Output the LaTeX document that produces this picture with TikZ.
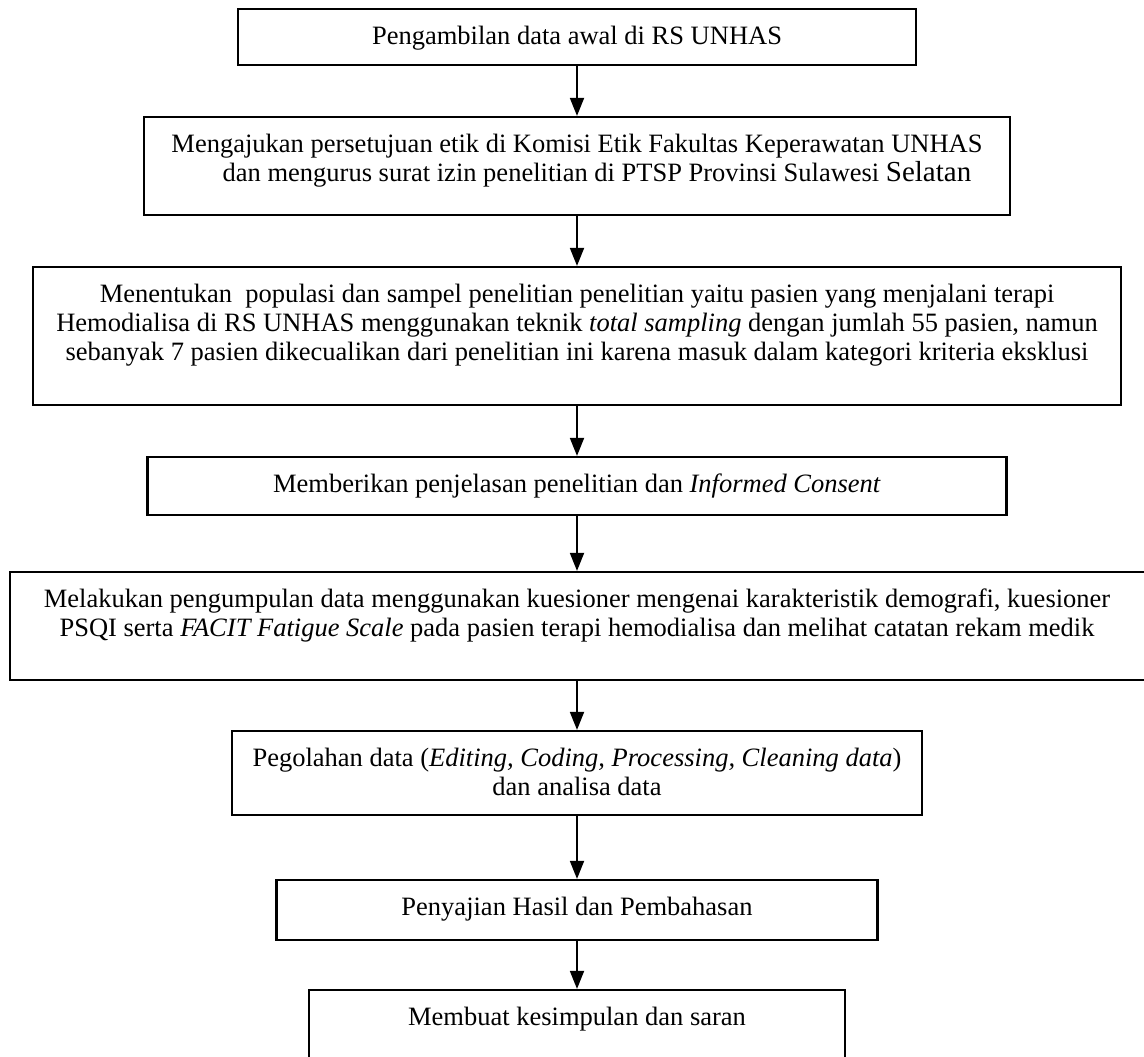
\documentclass[tikz,border=0pt]{standalone}
\usepackage{fontspec}
\setmainfont{Liberation Serif}
\usetikzlibrary{arrows.meta}
\tikzset{
  box/.style={draw, line width=2.2bp, rectangle, inner sep=0pt},
  txt/.style={anchor=north, yshift=-18bp, inner sep=0pt, align=center,
    font=\fontsize{26.5bp}{29bp}\selectfont},
  arr/.style={line width=1.8bp, -{Triangle[length=18bp,width=14bp]}}
}
\begin{document}
\begin{tikzpicture}[x=1bp,y=-1bp]
\useasboundingbox (0,0) rectangle (1144,1057);
\clip (0,0) rectangle (1144,1057);
\fill[white] (0,0) rectangle (1144,1057);
\node[box, minimum width=678bp, minimum height=56bp] (b1) at (577,37) {};
\node[box, minimum width=866bp, minimum height=98bp] (b2) at (577,166) {};
\node[box, minimum width=1088bp, minimum height=138bp] (b3) at (577,336) {};
\node[box, minimum width=859bp, minimum height=58bp] (b4) at (577,486) {};
\node[box, minimum width=1136bp, minimum height=108bp] (b5) at (578,626) {};
\node[box, minimum width=690bp, minimum height=84bp] (b6) at (577,773) {};
\node[box, minimum width=601bp, minimum height=60bp] (b7) at (577,910) {};
\node[box, minimum width=536bp, minimum height=80bp] (b8) at (577,1030) {};

\node[txt] (t1) at (b1.north) {Pengambilan data awal di RS UNHAS};
\node[txt] (t2) at (b2.north) {Mengajukan persetujuan etik di Komisi Etik Fakultas Keperawatan UNHAS\\
  \hspace*{40bp}dan mengurus surat izin penelitian di PTSP Provinsi Sulawesi {\fontsize{29bp}{29bp}\selectfont Selatan}};
\node[txt] (t3) at (b3.north) {Menentukan\ \ populasi dan sampel penelitian penelitian yaitu pasien yang menjalani terapi\\
  Hemodialisa di RS UNHAS menggunakan teknik \textit{total sampling} dengan jumlah 55 pasien, namun\\
  sebanyak 7 pasien dikecualikan dari penelitian ini karena masuk dalam kategori kriteria eksklusi};
\node[txt] (t4) at (b4.north) {Memberikan penjelasan penelitian dan \textit{Informed Consent}};
\node[txt] (t5) at (b5.north -| 577,0) {Melakukan pengumpulan data menggunakan kuesioner mengenai karakteristik demografi, kuesioner\\
  PSQI serta \textit{FACIT Fatigue Scale} pada pasien terapi hemodialisa dan melihat catatan rekam medik};
\node[txt] (t6) at (b6.north) {Pegolahan data (\textit{Editing, Coding, Processing, Cleaning data})\\ dan analisa data};
\node[txt] (t7) at (b7.north) {Penyajian Hasil dan Pembahasan};
\node[txt] (t8) at (b8.north) {Membuat kesimpulan dan saran};

\draw[arr] (b1.south) -- (b2.north);
\draw[arr] (b2.south) -- (b3.north);
\draw[arr] (b3.south) -- (b4.north);
\draw[arr] (b4.south) -- (b4.south |- b5.north);
\draw[arr] (b4.south |- b5.south) -- (b6.north);
\draw[arr] (b6.south) -- (b7.north);
\draw[arr] (b7.south) -- (b8.north);
\end{tikzpicture}
\end{document}
